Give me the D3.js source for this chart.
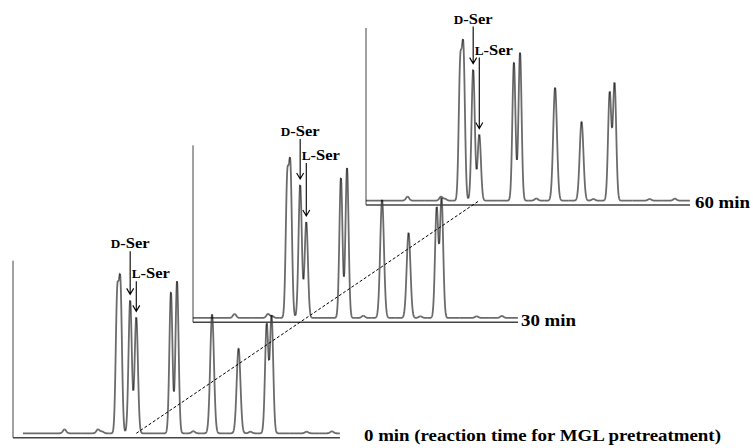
<!DOCTYPE html>
<meta charset="utf-8">
<style>
  body { margin: 0; background: #fff; }
  svg text {
    font-family: "Liberation Serif", "Times New Roman", serif;
    font-weight: bold;
    fill: #000;
  }
  .trace { fill: none; stroke: rgba(0,0,0,0.58); stroke-width: 1.8px; stroke-linecap: butt; stroke-linejoin: round; }
  .axis-v { stroke: #444; stroke-width: 1px; }
  .axis-h { stroke: #444; stroke-width: 1.5px; }
  .guide { stroke: #000; stroke-width: 1px; stroke-dasharray: 3,2; fill: none; }
  .arrow { fill: none; stroke: #000; stroke-width: 1.1px; }
</style>
<body>
<script src="https://cdn.jsdelivr.net/npm/d3@7"></script>
<script>
// retention times (min) of the main peaks, same for all three runs
var peakTimes  = [11.55, 11.95, 13.15, 13.9, 18.15, 18.9, 23.2, 26.45, 29.9, 30.5];
var peakWidths = [0.18, 0.19, 0.2, 0.2, 0.19, 0.19, 0.23, 0.23, 0.2, 0.2];
var dIndex = 2, lIndex = 3;   // D-Ser and L-Ser

// peak heights (relative intensity)
var heights0  = [81.9, 88.1, 75.1, 65.5, 79.7, 85.9, 67.2, 48.0, 62.1, 66.7];
var heights30 = [81.9, 88.7, 75.1, 54.2, 79.1, 84.7, 66.7, 48.0, 62.7, 67.8];
var heights60 = [80.8, 89.3, 74.0, 37.3, 78.0, 83.6, 63.8, 44.6, 61.6, 66.7];

// small bumps on the baseline
var minorTimes   = [5.1, 9.2, 9.7, 20.9, 27.9, 34.8, 37.9];
var minorHeights = [2.2, 2.2, 1.0, 1.2, 0.9, 0.9, 1.1];

var runLabels = ["0 min (reaction time for MGL pretreatment)", "30 min", "60 min"];

var width = 753, height = 448;

var svg = d3.select("body").append("svg")
  .attr("width", width)
  .attr("height", height);

// shared scales: time -> px, intensity -> px
var x = d3.scaleLinear().domain([0, 40]).range([0, 326]);
var y = d3.scaleLinear().domain([0, 100]).range([0, 177]);

// where each run sits on the page (staggered)
var runs = [
  { heights: heights0,  x0: 23,  axisY: 437.7, left: 13,  right: 340, labelX: 364, dH: 185, lH: 155 },
  { heights: heights30, x0: 193, axisY: 322.3, left: 193, right: 518, labelX: 521, dH: 182, lH: 158 },
  { heights: heights60, x0: 366, axisY: 205,   left: 366, right: 690, labelX: 695, dH: 177, lH: 146 }
];

function gauss(t, c, s) {
  return Math.exp(-(t - c) * (t - c) / (2 * s * s));
}

// amplitudes so that the summed trace hits the read heights
function fitAmps(h) {
  var a = h.slice();
  for (var k = 0; k < 80; k++) {
    a = h.map(function (hi, i) {
      var s = 0;
      peakTimes.forEach(function (t, j) {
        if (j != i) s += a[j] * gauss(peakTimes[i], t, peakWidths[j]);
      });
      return Math.max(0, hi - s);
    });
  }
  return a;
}

function signal(t, amps) {
  var v = 0;
  peakTimes.forEach(function (c, j) { v += amps[j] * gauss(t, c, peakWidths[j]); });
  minorTimes.forEach(function (c, j) { v += minorHeights[j] * gauss(t, c, 0.2); });
  return v;
}

// cut a trace into rising / falling runs so close flanks overlap darker
function splitMonotonic(pts) {
  var segs = [], cur = [pts[0]], dir = 0;
  for (var i = 1; i < pts.length; i++) {
    var d = Math.sign(pts[i][1] - pts[i - 1][1]);
    if (d != 0 && dir != 0 && d != dir) {
      segs.push(cur);
      cur = [pts[i - 1]];
    }
    if (d != 0) dir = d;
    cur.push(pts[i]);
  }
  segs.push(cur);
  return segs;
}

runs.forEach(function (r, ri) {
  r.y0 = r.axisY - 4.4;
  r.amps = fitAmps(r.heights);
  var g = svg.append("g").attr("class", "run");

  // axes
  g.append("line").attr("class", "axis-v")
    .attr("x1", r.left).attr("x2", r.left)
    .attr("y1", r.axisY - 177).attr("y2", r.axisY);
  g.append("line").attr("class", "axis-h")
    .attr("x1", r.left).attr("x2", r.right)
    .attr("y1", r.axisY).attr("y2", r.axisY);

  // trace
  var tEnd = x.invert(r.right - r.x0);
  var pts = d3.range(0, tEnd, 0.02).map(function (t) { return [t, signal(t, r.amps)]; });
  var line = d3.line()
    .x(function (d) { return r.x0 + x(d[0]); })
    .y(function (d) { return r.y0 - y(d[1]); });
  g.selectAll("path.trace")
    .data(splitMonotonic(pts))
    .enter().append("path")
    .attr("class", "trace")
    .attr("d", line);

  // run label
  g.append("text")
    .attr("transform", "translate(" + r.labelX + "," + (r.axisY + 3.3) + ") scale(1.18,1)")
    .style("font-size", "16px")
    .text(runLabels[ri]);

  // D-Ser / L-Ser arrows
  [[dIndex, "D", r.dH, "middle", 0], [lIndex, "L", r.lH, "start", -4.5]].forEach(function (m) {
    var t = peakTimes[m[0]];
    var ax = r.x0 + x(t);
    var tip = r.y0 - y(signal(t, r.amps)) - 6;
    var top = r.y0 - m[2];
    g.append("path").attr("class", "arrow")
      .attr("d", "M" + ax + "," + (top + 3) + "V" + tip +
        "M" + (ax - 3.5) + "," + (tip - 6) + "L" + ax + "," + tip + "L" + (ax + 3.5) + "," + (tip - 6));
    var txt = g.append("text")
      .attr("transform", "translate(" + (ax + m[4]) + "," + top + ") scale(1.1,1)")
      .attr("text-anchor", m[3])
      .style("font-size", "15px");
    txt.append("tspan").style("font-size", "12px").text(m[1]);
    txt.append("tspan").text("-Ser");
  });
});

// dashed guide through the L-Ser position of the first and last runs
var tL = peakTimes[lIndex];
svg.append("line").attr("class", "guide")
  .attr("x1", runs[0].x0 + x(tL)).attr("y1", runs[0].y0)
  .attr("x2", runs[2].x0 + x(tL)).attr("y2", runs[2].y0);
</script>
</body>
